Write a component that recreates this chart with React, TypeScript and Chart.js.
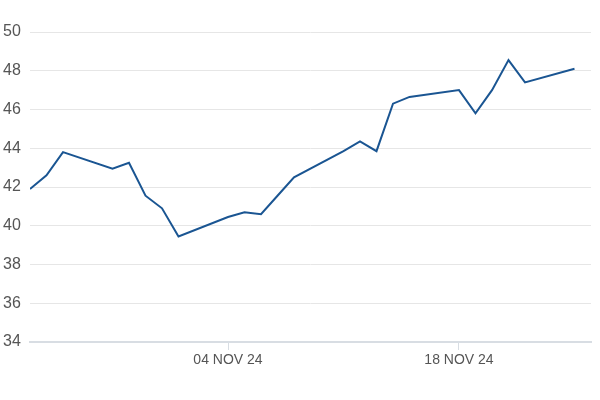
import React, { useEffect, useRef } from "react";
import { Chart, registerables } from "chart.js";

Chart.register(...registerables);

// Day offsets from 23 Oct 2024
const dayOffsets = [0, 1, 2, 5, 6, 7, 8, 9, 12, 13, 14, 15, 16, 19, 20, 21, 22, 23, 26, 27, 28, 29, 30, 33];
const prices = [41.9, 42.6, 43.8, 42.95, 43.25, 41.55, 40.9, 39.45, 40.45, 40.7, 40.6, 41.55, 42.5, 43.85, 44.35, 43.85, 46.3, 46.65, 47.0, 45.8, 47.0, 48.55, 47.4, 48.1];
const xTickDays = [12, 26];
const xTickLabels = ["04 NOV 24", "18 NOV 24"];
const yMin = 34;
const yMax = 50;
const yStep = 2;
const xMin = 0;
const xMax = 34;

export default function App() {
  const ref = useRef<HTMLCanvasElement>(null);
  useEffect(() => {
    if (!ref.current) return;
    const chart = new Chart(ref.current, {
      type: "line",
      data: {
        datasets: [
          {
            data: dayOffsets.map((d, i) => ({ x: d, y: prices[i] })),
            borderColor: "#1a5592",
            borderWidth: 2,
            pointRadius: 0,
            tension: 0,
            fill: false,
          },
        ],
      },
      options: {
        animation: false,
        responsive: false,
        maintainAspectRatio: false,
        layout: { padding: { left: 3, right: 9, top: 32, bottom: 0 } },
        plugins: { legend: { display: false }, tooltip: { enabled: false } },
        scales: {
          x: {
            type: "linear",
            min: xMin,
            max: xMax,
            afterBuildTicks: (scale: any) => {
              scale.ticks = xTickDays.map((v) => ({ value: v }));
            },
            afterFit: (scale: any) => {
              scale.height = 58;
            },
            ticks: {
              autoSkip: false,
              maxRotation: 0,
              color: "#555555",
              font: { family: "Liberation Sans, Arial, sans-serif", size: 14 },
              padding: 2,
              callback: (v: any) => {
                const i = xTickDays.indexOf(Number(v));
                return i >= 0 ? xTickLabels[i] : "";
              },
            },
            grid: {
              drawOnChartArea: false,
              drawTicks: true,
              tickLength: 8,
              color: "#d8dde3",
            },
            border: { display: true, color: "#d8dde3", width: 2 },
          },
          y: {
            min: yMin,
            max: yMax,
            afterFit: (scale: any) => {
              scale.width = 27;
            },
            ticks: {
              stepSize: yStep,
              color: "#555555",
              crossAlign: "far",
              padding: 0,
              font: { family: "Liberation Sans, Arial, sans-serif", size: 16 },
            },
            grid: { color: "#e6e6e6", drawTicks: false, lineWidth: 1 },
            border: { display: false },
          },
        },
      },
    });
    return () => chart.destroy();
  }, []);
  return (
    <div style={{ position: "fixed", left: 0, top: 0, width: 600, height: 400, background: "#fff" }}>
      <canvas ref={ref} width={600} height={400} style={{ width: 600, height: 400 }} />
    </div>
  );
}
